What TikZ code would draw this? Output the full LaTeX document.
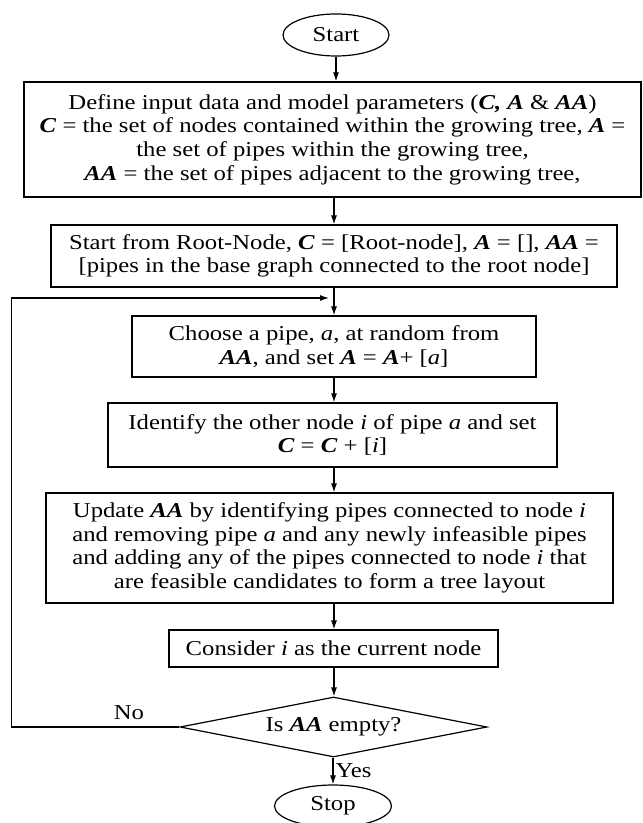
\documentclass[tikz,border=0pt]{standalone}
\usepackage{fontspec}
\setmainfont{Liberation Serif}[FakeStretch=1.165]
\usepackage{tikz}
\usetikzlibrary
  {
    arrows.meta,      % arrow heads
    shapes.geometric, % ellipse and diamond
    calc,
  }

% bold italic set names
\newcommand{\setname}[1]{\textbf{\textit{#1}}}

\begin{document}
\begin{tikzpicture}[x=0.5pt,y=-0.5pt,
    font=\fontsize{10.6}{11.8}\selectfont,
    line width=0.6pt,
    >={Latex[length=4.5pt,width=3pt]},
    box/.style={draw,rectangle,align=center,inner sep=0pt},
    term/.style={draw,ellipse,inner sep=0pt},
    decision/.style={draw,diamond,aspect=5.1,inner sep=0pt},
  ]
    \useasboundingbox (0,0) rectangle (642,823);

    % terminals
    \node [term,minimum width=53pt,minimum height=21pt] (start) at (336,35) {Start};
    \node [term,minimum width=58.5pt,minimum height=21pt] (stop) at (333,806) {Stop};

    % process boxes
    \node [box,minimum width=308.5pt,minimum height=57.5pt] (define) at (332.5,139.5)
      {Define input data and model parameters (\setname{C, A} \& \setname{AA})\\
       \setname{C} = the set of nodes contained within the growing tree, \setname{A} =\\
       the set of pipes within the growing tree,\\
       \setname{AA} = the set of pipes adjacent to the growing tree,};
    \node [box,minimum width=283pt,minimum height=31pt] (root) at (334,256)
      {Start from Root-Node, \setname{C} = [Root-node], \setname{A} = [], \setname{AA} =\\
       {[}pipes in the base graph connected to the root node]};
    \node [box,minimum width=202pt,minimum height=30.5pt] (choose) at (334,346.5)
      {Choose a pipe, \textit{a}, at random from\\
       \setname{AA}, and set \setname{A} = \setname{A}+ [\textit{a}]};
    \node [box,minimum width=224.5pt,minimum height=32pt] (other) at (332.5,435)
      {Identify the other node \textit{i} of pipe \textit{a} and set\\
       \setname{C} = \setname{C} + [\textit{i}]};
    \node [box,minimum width=283.5pt,minimum height=55pt] (update) at (329.5,548)
      {Update \setname{AA} by identifying pipes connected to node \textit{i}\\
       and removing pipe \textit{a} and any newly infeasible pipes\\
       and adding any of the pipes connected to node \textit{i} that\\
       are feasible candidates to form a tree layout};
    \node [box,minimum width=164.5pt,minimum height=18.5pt] (current) at (333.5,648.5)
      {Consider \textit{i} as the current node};

    % test
    \node [decision,minimum width=153.5pt,minimum height=30pt] (empty) at (333.5,727)
      {Is \setname{AA} empty?};

    % main flow
    \coordinate (join) at (334,298);
    \draw [->] (start.south -| 336,0) -- (define.north -| 336,0);
    \draw [->] (define.south -| 334,0) -- (root.north -| 334,0);
    \draw [->] (root.south -| join) -- (choose.north -| join);
    \draw [->] (choose.south -| 334,0) -- (other.north -| 334,0);
    \draw [->] (other.south -| 334,0) -- (update.north -| 334,0);
    \draw [->] (update.south -| 334,0) -- (current.north -| 334,0);
    \draw [->] (current.south -| 334,0) -- (empty.north -| 334,0);
    \draw [->] (empty.south -| 333,0) -- node [right,inner sep=1pt] {Yes} (stop.north -| 333,0);

    % back to the loop
    \draw [->] (empty.west) -- node [above,pos=0.3] {No} ++(-168,0) coordinate (turn)
      |- ($(join)+(-5,0)$);

\end{tikzpicture}
\end{document}
